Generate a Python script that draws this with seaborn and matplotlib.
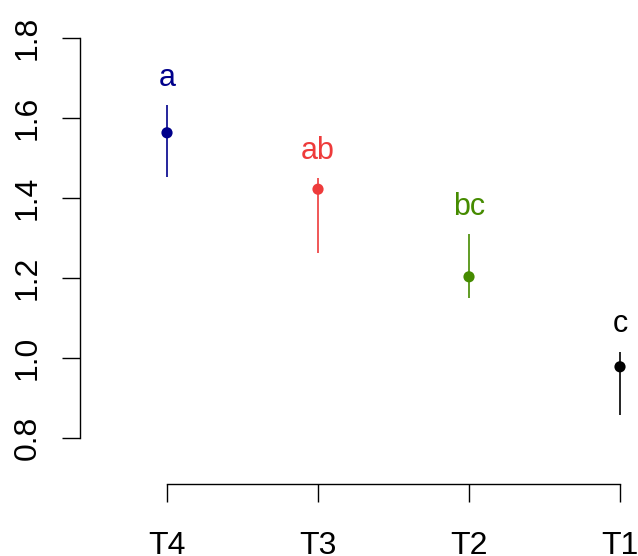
import matplotlib
matplotlib.use("Agg")
import matplotlib.pyplot as plt
import seaborn as sns
import pandas as pd

treatments = ["T4", "T3", "T2", "T1"]
means = [1.563, 1.422, 1.203, 0.978]
lower = [1.452, 1.262, 1.149, 0.857]
upper = [1.632, 1.449, 1.310, 1.016]
letters = ["a", "ab", "bc", "c"]
colors = ["#00008B", "#EE3B3B", "#458B00", "#000000"]
yticks = [0.8, 1.0, 1.2, 1.4, 1.6, 1.8]

sns.set_style("white")
plt.rcParams["font.family"] = ["Liberation Sans", "DejaVu Sans"]

df = pd.DataFrame({"treatment": treatments, "mean": means})

fig = plt.figure(figsize=(6.38, 5.56), dpi=100)
ax = fig.add_axes([80 / 638, (556 - 484) / 556, (638 - 80) / 638, 484 / 556])

pal = dict(zip(treatments, colors))
for i, t in enumerate(treatments):
    ax.vlines(i, lower[i], upper[i], color=colors[i], lw=1.2, zorder=2)
sns.scatterplot(data=df, x="treatment", y="mean", hue="treatment", palette=pal,
                s=65, edgecolor="none", legend=False, ax=ax, zorder=3)
for i, t in enumerate(treatments):
    ax.text(i, upper[i] + 0.068, letters[i], color=colors[i], fontsize=22,
            ha="center", va="center")

ax.set_xlim(-87 / 151, 3 + 18 / 151)
ax.set_ylim(0.8 - 46 / 400, 0.8 + 438 / 400)
ax.set_yticks(yticks)
ax.set_yticklabels([f"{v:.1f}" for v in yticks], rotation=90, va="center", fontsize=23)
ax.set_xticks(range(len(treatments)))
ax.set_xticklabels(treatments, fontsize=23)
ax.set_xlabel("")
ax.set_ylabel("")

for s in ["top", "right"]:
    ax.spines[s].set_visible(False)
ax.spines["left"].set_bounds(0.8, 1.8)
ax.spines["bottom"].set_bounds(0, 3)
for s in ["left", "bottom"]:
    ax.spines[s].set_linewidth(1.0)
    ax.spines[s].set_color("black")
ax.tick_params(axis="both", direction="out", length=13, width=1.0, color="black",
               labelcolor="black", left=True, bottom=True)
ax.tick_params(axis="y", pad=14)
ax.tick_params(axis="x", pad=21)
ax.set_facecolor("white")
fig.savefig("out.png", dpi=100, facecolor="white")
